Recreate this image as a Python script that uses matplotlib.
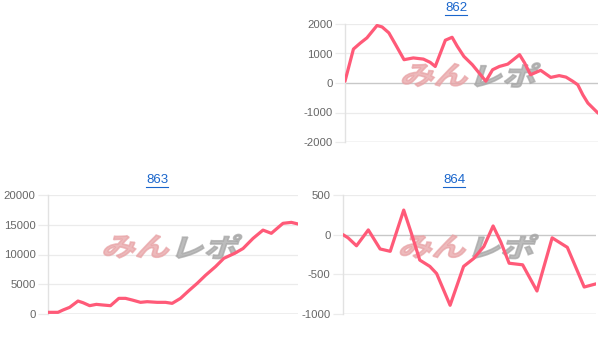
import matplotlib
matplotlib.use("Agg")
import matplotlib.pyplot as plt
from matplotlib.textpath import TextPath
from matplotlib.patches import PathPatch
from matplotlib.font_manager import FontProperties
from matplotlib.transforms import Affine2D, IdentityTransform
from matplotlib.lines import Line2D

plt.rcParams['font.family'] = ['Liberation Sans', 'DejaVu Sans']

# machine 862
x_862 = [0, 1.0, 1.8, 2.6, 3.8, 4.4, 5.2, 6.0, 7.0, 8.1, 9.3, 10.1, 10.7, 11.9,
         12.7, 13.3, 14.1, 15.1, 15.9, 16.7, 17.5, 18.3, 19.3, 20.7, 21.3, 22.0,
         23.2, 24.4, 25.4, 26.2, 27.0, 27.6, 28.2, 28.8, 30.0]
y_862 = [60, 1150, 1350, 1530, 1950, 1900, 1700, 1300, 790, 850, 810, 700, 560, 1450,
         1550, 1250, 900, 620, 340, 60, 450, 560, 640, 960, 680, 280,
         430, 190, 250, 200, 60, -60, -400, -680, -1020]

# machine 863
x_863 = [0, 1.2, 1.8, 2.6, 3.6, 4.2, 5.0, 5.8, 6.6, 7.5, 8.5, 9.3, 10.1, 11.1, 11.9,
         13.1, 14.1, 14.9, 15.9, 16.9, 17.9, 18.9, 20.1, 21.1, 22.4, 23.4, 24.6,
         25.8, 26.8, 28.2, 29.2, 30.0]
y_863 = [280, 280, 670, 1120, 2180, 1900, 1400, 1620, 1510, 1400, 2630, 2630, 2350,
         1960, 2070, 1960, 1960, 1790, 2630, 3920, 5150, 6500, 7960, 9360, 10200,
         11000, 12700, 14100, 13560, 15240, 15400, 15130]

# machine 864
x_864 = [0, 0.6, 1.6, 3.0, 4.4, 5.6, 7.2, 8.1, 9.1, 10.3, 11.1, 12.7, 14.3, 15.5,
         16.7, 17.8, 18.7, 19.7, 21.3, 23.0, 24.8, 26.6, 28.6, 30.0]
y_864 = [0, -40, -140, 60, -180, -210, 310, 20, -320, -400, -490, -890, -400, -300,
         -150, 110, -90, -360, -380, -710, -40, -160, -660, -620]

titles = ["862", "863", "864"]
yticks = [[-2000, -1000, 0, 1000, 2000],
          [0, 5000, 10000, 15000, 20000],
          [-1000, -500, 0, 500]]

LINE = "#ff5a78"
GRID = "#ebebeb"
ZERO = "#c8c8c8"
TICKC = "#666666"
LINK = "#1a66cc"

fig = plt.figure(figsize=(6.06, 3.40), dpi=100)
W, H = 606, 340

# axes boxes in pixels: left, top, right, bottom
boxes = [(345, 24, 598, 142), (48, 195, 298, 314), (343, 195, 596, 314)]
title_pos = [(456, 8), (157, 180), (454, 180)]
xs = [x_862, x_863, x_864]
ys = [y_862, y_863, y_864]

fp = FontProperties(family='Noto Sans CJK JP', weight='bold')


def watermark(ax, cx, cy):
    # "みん" pink + "レポ" gray, slanted and stretched
    parts = [("みん", "#e8a3a6", -35), ("レポ", "#a6a6a6", 36)]
    for txt, col, dx in parts:
        tp = TextPath((0, 0), txt, size=26, prop=fp)
        bb = tp.get_extents()
        tr = (Affine2D().translate(-(bb.x0 + bb.x1) / 2, -(bb.y0 + bb.y1) / 2)
              .scale(1.3, 1.0).skew_deg(18, 0).translate(cx + dx, cy))
        patch = PathPatch(tr.transform_path(tp), facecolor=col, edgecolor=col,
                          lw=1.2, alpha=0.75, transform=IdentityTransform(),
                          zorder=1, clip_on=False)
        ax.add_artist(patch)


for i in range(3):
    l, t, r, b = boxes[i]
    ax = fig.add_axes([l / W, 1 - b / H, (r - l) / W, (b - t) / H])
    ax.plot(xs[i], ys[i], color=LINE, lw=2.3, solid_joinstyle='round',
            solid_capstyle='round', zorder=3)
    ax.set_xlim(0, 30)
    tk = yticks[i]
    ax.set_ylim(tk[0], tk[-1])
    ax.set_yticks(tk)
    ax.set_yticklabels([str(v) for v in tk])
    ax.set_xticks([])
    for v in tk:
        ax.axhline(v, color=ZERO if v == 0 else GRID, lw=1.0 if v == 0 else 0.9,
                   zorder=0.5)
    ax.axhline(tk[0], color="#d6d6d6", lw=1.0, zorder=0.6)
    for s in ['top', 'right', 'bottom']:
        ax.spines[s].set_visible(False)
    ax.spines['left'].set_color("#e2e2e2")
    ax.spines['left'].set_linewidth(1.0)
    ax.tick_params(axis='y', length=7, width=0.9, color=GRID, colors=TICKC,
                   labelsize=8.2, pad=2)
    ax.tick_params(axis='y', color=GRID)
    ax.set_facecolor('none')

    watermark(ax, (l + r) / 2, H - ((t + b) / 2 - 8))

    tx, ty = title_pos[i]
    fig.text(tx / W, 1 - ty / H, titles[i], color=LINK, fontsize=9.5,
             ha='center', va='center')
    fig.add_artist(Line2D([(tx - 11) / W, (tx + 11) / W],
                          [1 - (ty + 7) / H, 1 - (ty + 7) / H],
                          color=LINK, lw=0.8))

fig.savefig("out.png", dpi=100)
